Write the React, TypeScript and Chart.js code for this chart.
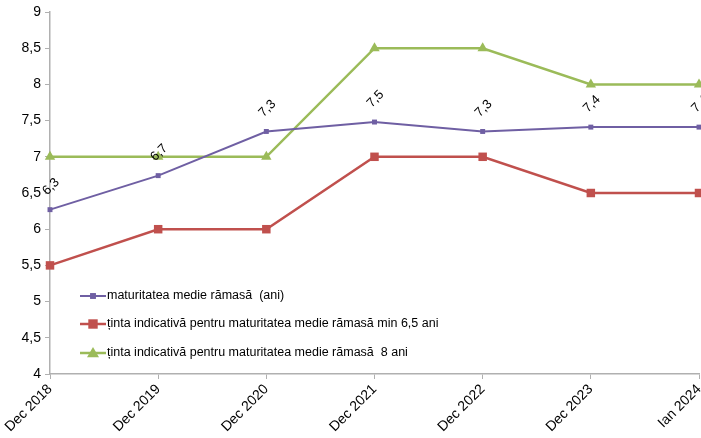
import React, { useEffect, useRef } from "react";
import { Chart, registerables } from "chart.js";

Chart.register(...registerables);

const categories = ["Dec 2018", "Dec 2019", "Dec 2020", "Dec 2021", "Dec 2022", "Dec 2023", "Ian 2024"];
const maturitate = [6.27, 6.74, 7.35, 7.48, 7.35, 7.41, 7.41];
const maturitateLabels = ["6,3", "6,7", "7,3", "7,5", "7,3", "7,4", "7,4"];
const tintaMin = [5.5, 6, 6, 7, 7, 6.5, 6.5];
const tinta8 = [7, 7, 7, 8.5, 8.5, 8, 8];
const seriesNames = [
  "maturitatea medie rămasă  (ani)",
  "ținta indicativă pentru maturitatea medie rămasă min 6,5 ani",
  "ținta indicativă pentru maturitatea medie rămasă  8 ani",
];

const FONT = "'Liberation Sans', Arial, sans-serif";
const PURPLE = "#6f5fa3";
const RED = "#c0504d";
const GREEN = "#9bbb59";

const labelPlugin = {
  id: "valueLabels",
  afterDatasetsDraw(chart: any) {
    const ctx = chart.ctx;
    const meta = chart.getDatasetMeta(0);
    ctx.save();
    ctx.font = `13px ${FONT}`;
    ctx.fillStyle = "#000";
    ctx.textAlign = "center";
    ctx.textBaseline = "middle";
    meta.data.forEach((pt: any, i: number) => {
      ctx.save();
      ctx.translate(pt.x + 1, pt.y - 23);
      ctx.rotate(-Math.PI / 4);
      ctx.fillText(maturitateLabels[i], 0, 0);
      ctx.restore();
    });
    ctx.restore();
  },
};

const legendPlugin = {
  id: "insideLegend",
  afterDraw(chart: any) {
    const ctx = chart.ctx;
    const x0 = 80;
    const rows = [296, 324, 353];
    ctx.save();
    ctx.font = `12.5px ${FONT}`;
    ctx.textBaseline = "middle";
    ctx.textAlign = "left";
    chart.data.datasets.forEach((ds: any, i: number) => {
      const y = rows[i];
      ctx.strokeStyle = ds.borderColor;
      ctx.lineWidth = ds.borderWidth;
      ctx.beginPath();
      ctx.moveTo(x0, y);
      ctx.lineTo(x0 + 26, y);
      ctx.stroke();
      ctx.fillStyle = ds.pointBackgroundColor;
      const cx = x0 + 13;
      const r = ds.pointRadius;
      if (ds.pointStyle === "triangle") {
        ctx.beginPath();
        ctx.moveTo(cx, y - r);
        ctx.lineTo(cx + r, y + r * 0.7);
        ctx.lineTo(cx - r, y + r * 0.7);
        ctx.closePath();
        ctx.fill();
      } else {
        const s = r * 1.4;
        ctx.fillRect(cx - s / 2 - 0.5, y - s / 2 - 0.5, s + 1, s + 1);
      }
      ctx.fillStyle = "#000";
      ctx.fillText(ds.label, x0 + 27, y);
    });
    ctx.restore();
  },
};

export default function App() {
  const ref = useRef<HTMLCanvasElement>(null);
  useEffect(() => {
    if (!ref.current) return;
    const chart = new Chart(ref.current, {
      type: "line",
      data: {
        labels: categories,
        datasets: [
          {
            label: seriesNames[0],
            data: maturitate,
            borderColor: PURPLE,
            backgroundColor: PURPLE,
            pointBackgroundColor: PURPLE,
            pointBorderWidth: 0,
            borderWidth: 2,
            pointStyle: "rect",
            pointRadius: 3.5,
            clip: false,
          },
          {
            label: seriesNames[1],
            data: tintaMin,
            borderColor: RED,
            backgroundColor: RED,
            pointBackgroundColor: RED,
            pointBorderWidth: 0,
            borderWidth: 2.5,
            pointStyle: "rect",
            pointRadius: 6,
            clip: false,
          },
          {
            label: seriesNames[2],
            data: tinta8,
            borderColor: GREEN,
            backgroundColor: GREEN,
            pointBackgroundColor: GREEN,
            pointBorderWidth: 0,
            borderWidth: 2.5,
            pointStyle: "triangle",
            pointRadius: 6,
            clip: false,
          },
        ],
      },
      options: {
        animation: false,
        responsive: false,
        maintainAspectRatio: false,
        layout: { autoPadding: false, padding: { top: 12, right: 2, left: 0, bottom: 0 } },
        plugins: { legend: { display: false }, tooltip: { enabled: false } },
        scales: {
          x: {
            offset: false,
            grid: { display: true, drawOnChartArea: false, drawTicks: true, tickLength: 5, color: "#b0b0b0" },
            border: { display: true, color: "#b0b0b0", width: 1.5 },
            ticks: {
              minRotation: 45,
              maxRotation: 45,
              color: "#000",
              font: { family: FONT, size: 14 },
              padding: 2,
            },
            afterFit(s: any) {
              s.height = 64;
              s.paddingRight = 0;
              s.paddingLeft = 0;
            },
          },
          y: {
            min: 4,
            max: 9,
            grid: { display: true, drawOnChartArea: false, drawTicks: true, tickLength: 5, color: "#b0b0b0" },
            border: { display: true, color: "#b0b0b0", width: 1.5 },
            ticks: {
              stepSize: 0.5,
              color: "#000",
              font: { family: FONT, size: 14 },
              padding: 4,
              callback: (v: any) => String(v).replace(".", ","),
            },
            afterFit(s: any) {
              s.width = 50;
              s.paddingTop = 0;
              s.paddingBottom = 0;
            },
          },
        },
      },
      plugins: [labelPlugin, legendPlugin],
    });
    return () => chart.destroy();
  }, []);
  return (
    <div style={{ position: "fixed", left: 0, top: 0, width: 701, height: 438, background: "#fff" }}>
      <canvas ref={ref} width={701} height={438} style={{ width: 701, height: 438 }} />
    </div>
  );
}
